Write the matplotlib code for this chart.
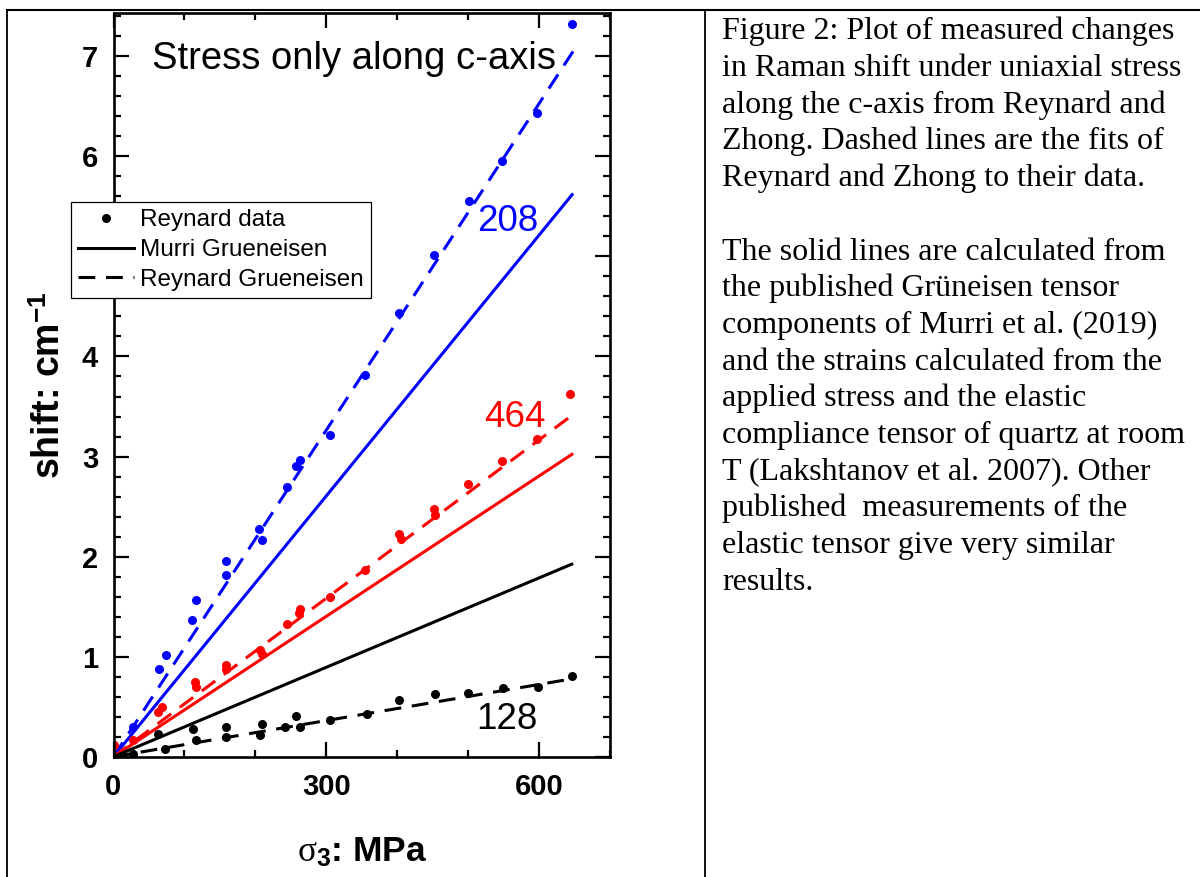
import matplotlib
matplotlib.use('Agg')
import matplotlib.pyplot as plt
from matplotlib.lines import Line2D
from matplotlib.ticker import MultipleLocator, FixedLocator

# Reynard & Zhong data: uniaxial stress (MPa) vs Raman shift (cm-1)
stress_208 = [28, 64, 74, 111, 117, 159, 159, 205, 209, 244, 258, 263,
              305, 354, 402, 452, 501, 548, 597, 646]
shift_208 = [0.30, 0.88, 1.02, 1.37, 1.57, 1.82, 1.96, 2.28, 2.17, 2.70,
             2.91, 2.97, 3.22, 3.81, 4.43, 5.01, 5.55, 5.95, 6.43, 7.32]

stress_464 = [1, 28, 63, 68, 115, 117, 159, 159, 207, 209, 244, 261, 263,
              305, 355, 403, 405, 452, 453, 500, 548, 597, 644]
shift_464 = [0.12, 0.17, 0.45, 0.50, 0.75, 0.70, 0.92, 0.88, 1.07, 1.03,
             1.33, 1.44, 1.48, 1.60, 1.87, 2.23, 2.18, 2.48, 2.42, 2.73,
             2.96, 3.18, 3.63]

stress_128 = [28, 63, 72, 112, 117, 159, 159, 209, 206, 242, 258, 263,
              305, 357, 403, 453, 500, 549, 598, 647]
shift_128 = [0.03, 0.23, 0.08, 0.28, 0.17, 0.30, 0.20, 0.33, 0.22, 0.30,
             0.41, 0.30, 0.37, 0.43, 0.57, 0.63, 0.64, 0.69, 0.70, 0.81]

# fit / model lines, end points (MPa, cm-1)
line_x = [0, 648]
murri_208 = [0, 5.63]
murri_464 = [0, 3.03]
murri_128 = [0, 1.93]
reynard_208 = [0, 7.05]
reynard_464 = [0, 3.42]
reynard_128 = [0, 0.78]

caption = [
    "Figure 2: Plot of measured changes",
    "in Raman shift under uniaxial stress",
    "along the c-axis from Reynard and",
    "Zhong. Dashed lines are the fits of",
    "Reynard and Zhong to their data.",
    "",
    "The solid lines are calculated from",
    "the published Grüneisen tensor",
    "components of Murri et al. (2019)",
    "and the strains calculated from the",
    "applied stress and the elastic",
    "compliance tensor of quartz at room",
    "T (Lakshtanov et al. 2007). Other",
    "published  measurements of the",
    "elastic tensor give very similar",
    "results.",
]

plt.rcParams['font.family'] = 'Liberation Sans'
plt.rcParams['mathtext.fontset'] = 'custom'
plt.rcParams['mathtext.rm'] = 'Liberation Sans:bold'
plt.rcParams['mathtext.bf'] = 'Liberation Sans:bold'
plt.rcParams['mathtext.it'] = 'Liberation Serif'

W, H = 1200, 877
fig = plt.figure(figsize=(W / 100, H / 100), dpi=100)
ax = fig.add_axes([113.5 / W, 1 - 756.7 / H, (610 - 113.5) / W, (756.7 - 13.3) / H])

lw = 2.2
dash = (5.5, 3.5)
series = [
    (stress_208, shift_208, murri_208, reynard_208, 'blue'),
    (stress_464, shift_464, murri_464, reynard_464, 'red'),
    (stress_128, shift_128, murri_128, reynard_128, 'black'),
]
for sx, sy, murri, reyn, col in series:
    ax.plot(line_x, murri, color=col, lw=lw, solid_capstyle='butt')
    ax.plot(line_x, reyn, color=col, lw=lw, dashes=dash)
    ax.plot(sx, sy, 'o', color=col, ms=6.5, mec='none')

ax.text(513, 5.25, '208', color='blue', fontsize=26.5)
ax.text(522, 3.30, '464', color='red', fontsize=26.5)
ax.text(511, 0.28, '128', color='black', fontsize=26.5)
ax.text(54, 6.87, 'Stress only along c-axis', fontsize=27.5)

ax.set_xlim(0, 700)
ax.set_ylim(0, 7.43)
ax.xaxis.set_major_locator(FixedLocator([0, 300, 600]))
ax.xaxis.set_minor_locator(MultipleLocator(100))
ax.yaxis.set_major_locator(MultipleLocator(1))
ax.yaxis.set_minor_locator(MultipleLocator(0.2))
ax.tick_params(which='both', direction='in', top=True, right=True, width=1.6)
ax.tick_params(which='major', length=10.5)
ax.tick_params(which='minor', length=5)
ax.tick_params(axis='x', which='major', pad=12, labelsize=21)
ax.tick_params(axis='y', which='major', pad=11, labelsize=21)
for lab in ax.get_xticklabels() + ax.get_yticklabels():
    lab.set_fontweight('bold')
for sp in ax.spines.values():
    sp.set_linewidth(1.9)

ax.set_ylabel(r'shift: cm$^{-1}$', fontsize=27, fontweight='bold')
ax.yaxis.set_label_coords(-0.092, 0.5)
ax.set_xlabel(r'$\sigma_3$: MPa', fontsize=25.5, fontweight='bold')
ax.xaxis.set_label_coords(0.5, -0.107)

handles = [
    Line2D([], [], ls='none', marker='o', color='black', ms=6.5, mec='none'),
    Line2D([], [], color='black', lw=lw),
    Line2D([], [], color='black', lw=lw, dashes=dash),
]
leg = ax.legend(handles, ['Reynard data', 'Murri Grueneisen', 'Reynard Grueneisen'],
                loc='upper left', bbox_to_anchor=(71 / W, 1 - 202 / H),
                bbox_transform=fig.transFigure, fontsize=17.5, frameon=True,
                fancybox=False, edgecolor='black', framealpha=1,
                borderpad=0.3, labelspacing=0.32, handlelength=2.3,
                handletextpad=0.25, borderaxespad=0)
leg.get_frame().set_linewidth(0.9)
leg.set_zorder(10)

# table borders around the figure and caption
def hline(y, x0, x1):
    fig.add_artist(Line2D([x0 / W, x1 / W], [1 - y / H, 1 - y / H], color='black', lw=1.5))

def vline(x, y0, y1):
    fig.add_artist(Line2D([x / W, x / W], [1 - y0 / H, 1 - y1 / H], color='black', lw=1.3))

hline(10, 7, W)
vline(7, 10, H)
vline(705, 10, H)

for i, line in enumerate(caption):
    fig.text(722 / W, 1 - (39.3 + 36.7 * i) / H, line, fontsize=23,
             family='Liberation Serif', va='baseline', ha='left')

fig.savefig('out.png', dpi=100)
